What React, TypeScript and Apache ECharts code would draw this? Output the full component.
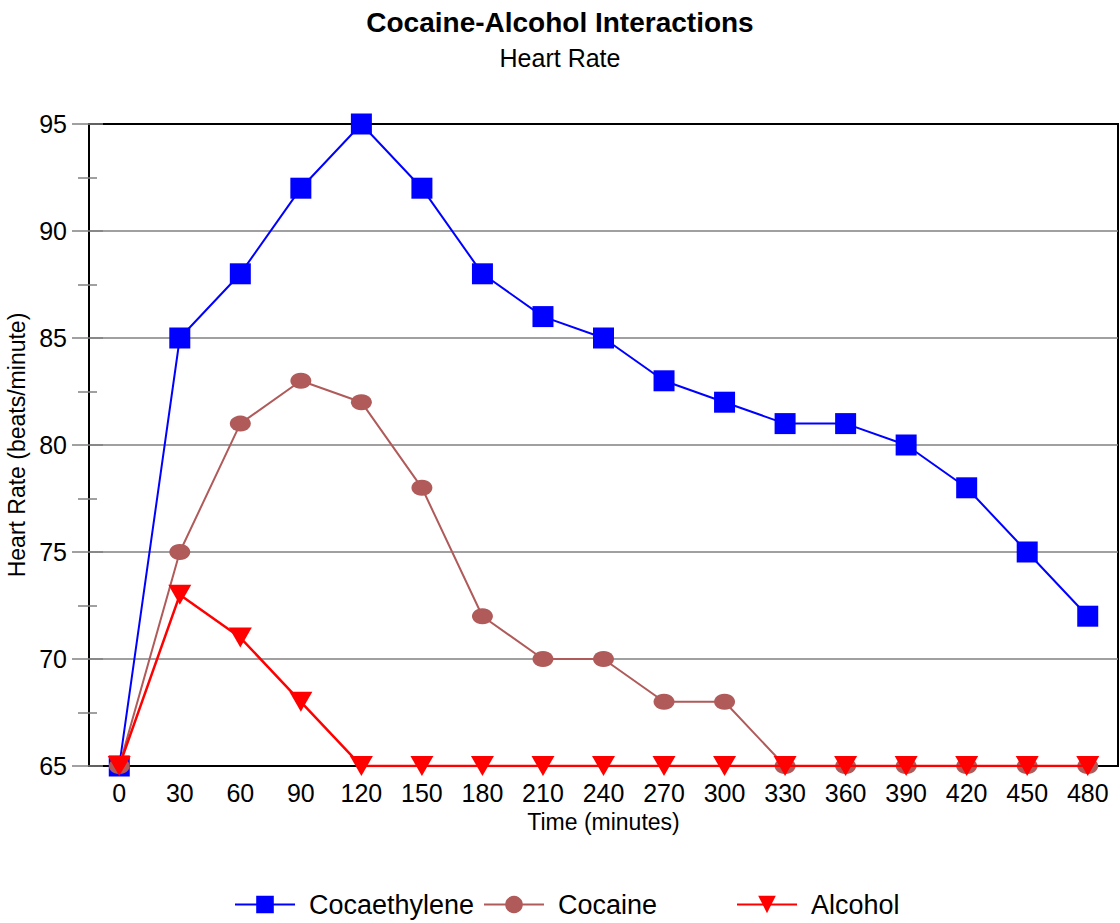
import React, { useEffect, useRef } from "react";
import * as echarts from "echarts";

const categories = ["0", "30", "60", "90", "120", "150", "180", "210", "240", "270", "300", "330", "360", "390", "420", "450", "480"];
const cocaethylene = [65, 85, 88, 92, 95, 92, 88, 86, 85, 83, 82, 81, 81, 80, 78, 75, 72];
const cocaine = [65, 75, 81, 83, 82, 78, 72, 70, 70, 68, 68, 65, 65, 65, 65, 65, 65];
const alcohol = [65, 73, 71, 68, 65, 65, 65, 65, 65, 65, 65, 65, 65, 65, 65, 65, 65];

const FONT = "Liberation Sans, Arial, sans-serif";
const GRAY = "#808080";
const TRI = "path://M0,0L20,0L10,18Z";

export default function App() {
  const ref = useRef<HTMLDivElement>(null);
  useEffect(() => {
    if (!ref.current) return;
    const chart = echarts.init(ref.current, undefined, { renderer: "svg" });
    const legendText = { fontFamily: FONT, fontSize: 27, color: "#000", padding: [0, 0, 0, 9] };
    const legendCommon = { top: 891, padding: 0, itemWidth: 60, itemHeight: 22, textStyle: legendText };
    chart.setOption({
      animation: false,
      title: [
        { text: "Cocaine-Alcohol Interactions", left: "center", top: 3, textStyle: { fontFamily: FONT, fontSize: 28, fontWeight: "bold", color: "#000" } },
        { text: "Heart Rate", left: "center", top: 40, textStyle: { fontFamily: FONT, fontSize: 25, fontWeight: "normal", color: "#000" } },
      ],
      legend: [
        { ...legendCommon, data: ["Cocaethylene"], left: 234 },
        { ...legendCommon, data: ["Cocaine"], left: 483 },
        { ...legendCommon, data: ["Alcohol"], left: 736 },
      ],
      grid: {
        left: 89,
        right: 2,
        top: 124,
        bottom: 157,
        containLabel: false,
        outerBoundsMode: "none",
        show: true,
        borderColor: "#000",
        borderWidth: 2,
        backgroundColor: "transparent",
      },
      xAxis: [
        {
          type: "category",
          data: categories,
          boundaryGap: true,
          name: "Time (minutes)",
          nameLocation: "middle",
          nameGap: 44,
          nameTextStyle: { fontFamily: FONT, fontSize: 23, color: "#000" },
          axisLine: { lineStyle: { color: "#000", width: 2 } },
          axisTick: { alignWithLabel: true, length: 11, lineStyle: { color: GRAY, width: 1.5 } },
          axisLabel: { fontFamily: FONT, fontSize: 25, color: "#000", margin: 14 },
          splitLine: { show: false },
        },
        {
          type: "category",
          data: categories,
          boundaryGap: true,
          position: "bottom",
          axisLine: { show: false },
          axisTick: { alignWithLabel: true, inside: true, length: 11, lineStyle: { color: GRAY, width: 1.5 } },
          axisLabel: { show: false },
          splitLine: { show: false },
        },
      ],
      yAxis: [
        {
          type: "value",
          min: 65,
          max: 95,
          interval: 5,
          name: "Heart Rate (beats/minute)",
          nameLocation: "middle",
          nameGap: 52,
          nameTextStyle: { fontFamily: FONT, fontSize: 23, color: "#000" },
          axisLine: { show: true, lineStyle: { color: "#000", width: 2 } },
          axisTick: { show: true, length: 17, lineStyle: { color: GRAY, width: 1.5 } },
          minorTick: { show: true, splitNumber: 2, length: 11, lineStyle: { color: GRAY, width: 1.5 } },
          axisLabel: { fontFamily: FONT, fontSize: 25, color: "#000", margin: 22 },
          splitLine: { show: true, showMinLine: false, showMaxLine: false, lineStyle: { color: GRAY, width: 1.5 } },
        },
        {
          type: "value",
          min: 65,
          max: 95,
          interval: 5,
          position: "left",
          axisLine: { show: false },
          axisTick: { show: true, inside: true, length: 14, lineStyle: { color: GRAY, width: 1.5 } },
          minorTick: { show: true, splitNumber: 2, length: 8, lineStyle: { color: GRAY, width: 1.5 } },
          axisLabel: { show: false },
          splitLine: { show: false },
        },
      ],
      series: [
        {
          name: "Cocaethylene",
          type: "line",
          data: cocaethylene,
          symbol: "rect",
          symbolSize: 21,
          showAllSymbol: true,
          itemStyle: { color: "#0000FF" },
          lineStyle: { color: "#0000FF", width: 2 },
          z: 2,
        },
        {
          name: "Cocaine",
          type: "line",
          data: cocaine,
          symbol: "circle",
          symbolSize: [21, 16],
          showAllSymbol: true,
          itemStyle: { color: "#B05A5A" },
          lineStyle: { color: "#B05A5A", width: 2 },
          z: 3,
        },
        {
          name: "Alcohol",
          type: "line",
          data: alcohol,
          symbol: TRI,
          symbolSize: [23, 20],
          showAllSymbol: true,
          itemStyle: { color: "#FF0000" },
          lineStyle: { color: "#FF0000", width: 2.5 },
          z: 4,
        },
      ],
    });
    return () => chart.dispose();
  }, []);
  return <div ref={ref} style={{ width: 1120, height: 923, position: "absolute", left: 0, top: 0 }} />;
}
